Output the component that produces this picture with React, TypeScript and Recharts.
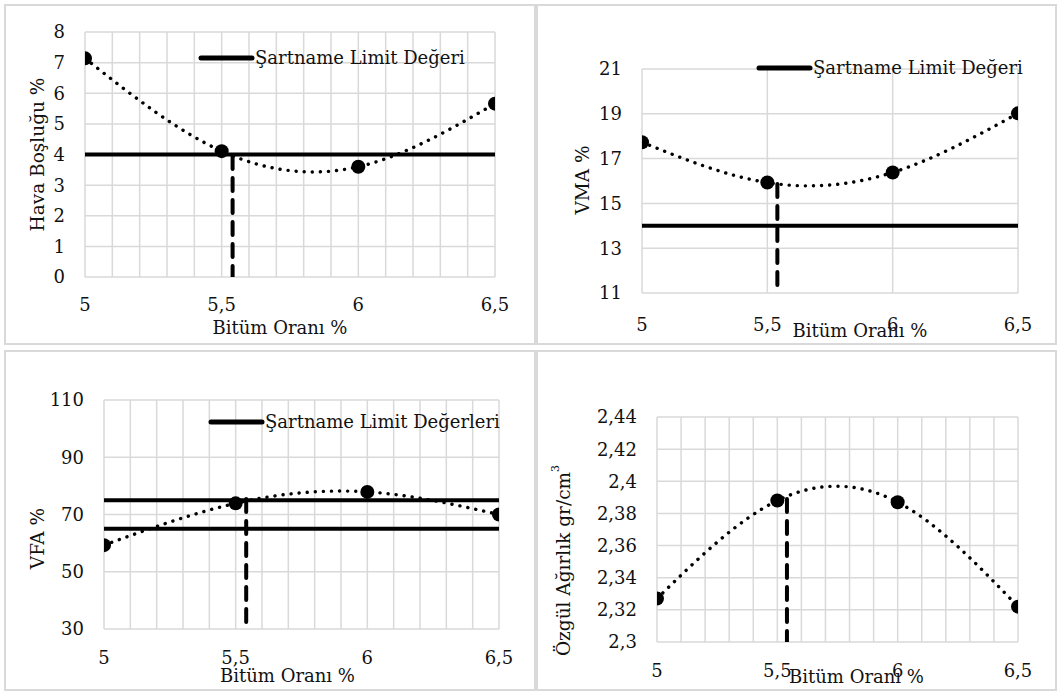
import React from 'react';
import { ComposedChart, Line, XAxis, YAxis, CartesianGrid, ReferenceLine, Legend, Label } from 'recharts';

// bitumen content (x axis)
const bitumen = [5, 5.5, 6, 6.5];
const xTicks = [5, 5.5, 6, 6.5];
const minorXTicks = [5, 5.1, 5.2, 5.3, 5.4, 5.5, 5.6, 5.7, 5.8, 5.9, 6, 6.1, 6.2, 6.3, 6.4, 6.5];
const optimumBitumen = 5.54;
const X_DOMAIN = [5, 6.5];

// measured values
const airVoids = [7.14, 4.11, 3.6, 5.66];
const vma = [17.73, 15.93, 16.38, 19.02];
const vfa = [59.3, 73.9, 77.9, 70.0];
const density = [2.327, 2.388, 2.387, 2.322];

// y ticks
const airVoidsTicks = [0, 1, 2, 3, 4, 5, 6, 7, 8];
const vmaTicks = [11, 13, 15, 17, 19, 21];
const vfaTicks = [30, 50, 70, 90, 110];
const densityTicks = [2.3, 2.32, 2.34, 2.36, 2.38, 2.4, 2.42, 2.44];

// specification limits
const airVoidsLimits = [4];
const vmaLimits = [14];
const vfaLimits = [65, 75];
const densityLimits: number[] = [];

// where the optimum line meets the trend
const optimumTops = [3.95, 15.87, 75.4, 2.389];

const FONT = '"DejaVu Serif", serif';
const TEXT = '#111';
const GRID = '#d9d9d9';
const FS = 18;

const fmt = (v: number) => String(v).replace('.', ',');

const panels = [
  {
    values: airVoids, yTicks: airVoidsTicks, limits: airVoidsLimits, top: optimumTops[0],
    yTitle: 'Hava Boşluğu %', legend: 'Şartname Limit Değeri', minor: true,
    box: { left: 4, top: 4, width: 532, height: 341 },
    plot: { left: 81, right: 41, top: 28, bottom: 68 },
    xTitle: { dx: -10, dy: 50 }, yTitlePos: { x: 33, dy: 0 }, xTickMargin: 21,
    legendPos: { left: 194, top: 43 },
  },
  {
    values: vma, yTicks: vmaTicks, limits: vmaLimits, top: optimumTops[1],
    yTitle: 'VMA %', legend: 'Şartname Limit Değeri', minor: false,
    box: { left: 536, top: 4, width: 521, height: 341 },
    plot: { left: 106, right: 39, top: 65, bottom: 52 },
    xTitle: { dx: 30, dy: 37 }, yTitlePos: { x: 46, dy: -1 }, xTickMargin: 25,
    legendPos: { left: 220, top: 53 },
  },
  {
    values: vfa, yTicks: vfaTicks, limits: vfaLimits, top: optimumTops[2],
    yTitle: 'VFA %', legend: 'Şartname Limit Değerleri', minor: true,
    box: { left: 4, top: 350, width: 532, height: 341 },
    plot: { left: 100, right: 37, top: 50, bottom: 62 },
    xTitle: { dx: -14, dy: 46 }, yTitlePos: { x: 33, dy: 24 }, xTickMargin: 22,
    legendPos: { left: 204, top: 61 },
  },
  {
    values: density, yTicks: densityTicks, limits: densityLimits, top: optimumTops[3],
    yTitle: 'Özgül Ağırlık gr/cm', legend: '', minor: true,
    box: { left: 536, top: 350, width: 521, height: 341 },
    plot: { left: 121, right: 39, top: 67, bottom: 49 },
    xTitle: { dx: 19, dy: 34 }, yTitlePos: { x: 27, dy: 31 }, xTickMargin: 22,
    legendPos: { left: 0, top: 0 },
  },
];

type PanelCfg = (typeof panels)[number];

const minorGrid = ({ offset }: any) =>
  minorXTicks.map((t) => offset.left + ((t - X_DOMAIN[0]) / (X_DOMAIN[1] - X_DOMAIN[0])) * offset.width);

const Panel = ({ cfg, index }: { cfg: PanelCfg; index: number }) => {
  const points = bitumen.map((x, i) => ({ x, y: cfg.values[i] }));
  const yMin = cfg.yTicks[0];
  const yMax = cfg.yTicks[cfg.yTicks.length - 1];
  const optimum = [
    { x: optimumBitumen, y: cfg.top },
    { x: optimumBitumen, y: yMin },
  ];
  const tickStyle = { fontSize: FS, fill: TEXT, fontFamily: FONT };

  return (
    <>
      <div
        style={{
          position: 'absolute', left: cfg.box.left, top: cfg.box.top,
          width: cfg.box.width, height: cfg.box.height,
          border: `2px solid ${GRID}`, boxSizing: 'border-box',
        }}
      />
      <div style={{ position: 'absolute', left: cfg.box.left, top: cfg.box.top }}>
        <ComposedChart
          width={cfg.box.width}
          height={cfg.box.height}
          margin={{ top: cfg.plot.top, right: cfg.plot.right, left: 0, bottom: 0 }}
        >
          <CartesianGrid
            stroke={GRID}
            strokeWidth={1.5}
            verticalCoordinatesGenerator={cfg.minor ? minorGrid : undefined}
          />
          <XAxis
            dataKey="x"
            type="number"
            domain={X_DOMAIN}
            ticks={xTicks}
            tickFormatter={fmt}
            axisLine={false}
            tickLine={false}
            tickSize={0}
            tickMargin={cfg.xTickMargin}
            height={cfg.plot.bottom}
            tick={tickStyle}
            allowDataOverflow
          >
            <Label
              content={(p: any) => (
                <text
                  x={p.viewBox.x + p.viewBox.width / 2 + cfg.xTitle.dx}
                  y={p.viewBox.y + cfg.xTitle.dy}
                  textAnchor="middle"
                  dominantBaseline="central"
                  style={{ fontSize: FS, fill: TEXT, fontFamily: FONT }}
                >
                  Bitüm Oranı %
                </text>
              )}
            />
          </XAxis>
          <YAxis
            type="number"
            domain={[yMin, yMax]}
            ticks={cfg.yTicks}
            tickFormatter={fmt}
            axisLine={false}
            tickLine={false}
            tickSize={0}
            tickMargin={20}
            width={cfg.plot.left}
            tick={tickStyle}
            allowDataOverflow
          >
            <Label
              content={(p: any) => {
                const x = cfg.yTitlePos.x;
                const y = p.viewBox.y + p.viewBox.height / 2 + cfg.yTitlePos.dy;
                return (
                  <text
                    x={x}
                    y={y}
                    transform={`rotate(-90 ${x} ${y})`}
                    textAnchor="middle"
                    dominantBaseline="central"
                    style={{ fontSize: FS + 0.5, fill: TEXT, fontFamily: FONT }}
                  >
                    {cfg.yTitle}
                    {index === 3 && (
                      <tspan fontSize={11} dy={-8}>
                        3
                      </tspan>
                    )}
                  </text>
                );
              }}
            />
          </YAxis>
          {cfg.limits.map((l) => (
            <ReferenceLine key={l} y={l} stroke="#000" strokeWidth={4} />
          ))}
          <Line
            data={optimum}
            dataKey="y"
            stroke="#000"
            strokeWidth={4}
            strokeDasharray="13 9"
            strokeLinecap="round"
            dot={false}
            isAnimationActive={false}
          />
          <Line
            data={points}
            dataKey="y"
            type="natural"
            stroke="#000"
            strokeWidth={3.4}
            strokeDasharray="0.1 8"
            strokeLinecap="round"
            dot={{ r: 7, fill: '#000', stroke: '#000', strokeWidth: 0, strokeDasharray: '' }}
            isAnimationActive={false}
          />
          {cfg.legend && (
            <Legend
              layout="horizontal"
              verticalAlign="middle"
              align="center"
              wrapperStyle={{ left: cfg.legendPos.left, top: cfg.legendPos.top, width: 'auto' }}
              content={() => (
                <div style={{ display: 'flex', alignItems: 'center', fontFamily: FONT, fontSize: FS, color: TEXT }}>
                  <svg width={57} height={10}>
                    <line x1={3} y1={5} x2={54} y2={5} stroke="#000" strokeWidth={5} strokeLinecap="round" />
                  </svg>
                  <span style={{ whiteSpace: 'nowrap' }}>{cfg.legend}</span>
                </div>
              )}
            />
          )}
        </ComposedChart>
      </div>
    </>
  );
};

export default function App() {
  return (
    <div style={{ position: 'absolute', left: 0, top: 0, width: 1060, height: 692, background: '#fff' }}>
      {panels.map((cfg, i) => (
        <Panel key={i} cfg={cfg} index={i} />
      ))}
    </div>
  );
}
